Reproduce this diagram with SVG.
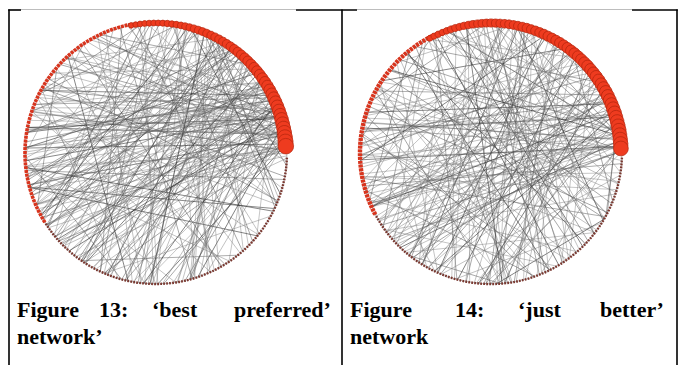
<svg xmlns="http://www.w3.org/2000/svg" xmlns:xlink="http://www.w3.org/1999/xlink" width="678" height="365" viewBox="0 0 678 365">
<style>
.frame{stroke:#000;stroke-width:1.6;fill:none}
.edge{fill:none;stroke-width:.75}
.a{stroke:#7a7a7a;stroke-opacity:.55}
.b{stroke:#505050;stroke-opacity:.6}
.c{stroke:#2a2a2a;stroke-opacity:.7}
.ring{fill:none;stroke:#555;stroke-width:.6;stroke-opacity:.6}
.dark{fill:none;stroke:#7a3830;stroke-width:2.4;stroke-dasharray:1.8 1.2}
.red{fill:none;stroke:#d8341d;stroke-width:3.6;stroke-dasharray:3 .8}
.n{fill:#ee3b1f;stroke:#b5260e;stroke-width:.7}
.cap{font-family:"Liberation Serif","Times New Roman",serif;font-weight:bold;font-size:22px;fill:#000}
</style>
<defs>
<line id="t0" x1="0" y1="-131" x2="0" y2="131"/>
<line id="t7" x1="7" y1="-130.8" x2="7" y2="130.8"/>
<line id="t15" x1="15" y1="-130.1" x2="15" y2="130.1"/>
<line id="t22" x1="22" y1="-129.1" x2="22" y2="129.1"/>
<line id="t30" x1="30" y1="-127.5" x2="30" y2="127.5"/>
<line id="t37" x1="37" y1="-125.7" x2="37" y2="125.7"/>
<line id="t45" x1="45" y1="-123" x2="45" y2="123"/>
<line id="t52" x1="52" y1="-120.2" x2="52" y2="120.2"/>
<line id="t60" x1="60" y1="-116.5" x2="60" y2="116.5"/>
<line id="t67" x1="67" y1="-112.6" x2="67" y2="112.6"/>
<line id="t75" x1="75" y1="-107.4" x2="75" y2="107.4"/>
<line id="t82" x1="82" y1="-102.2" x2="82" y2="102.2"/>
<line id="t90" x1="90" y1="-95.2" x2="90" y2="95.2"/>
<line id="t97" x1="97" y1="-88" x2="97" y2="88"/>
<line id="t105" x1="105" y1="-78.3" x2="105" y2="78.3"/>
<line id="t110" x1="110" y1="-71.1" x2="110" y2="71.1"/>
<line id="t115" x1="115" y1="-62.7" x2="115" y2="62.7"/>
<line id="t122" x1="122" y1="-47.7" x2="122" y2="47.7"/>
</defs>
<rect width="678" height="365" fill="#fff"/>
<g id="table">
<line class="frame" x1="9" y1="9.5" x2="9" y2="365"/>
<line class="frame" x1="342" y1="9.5" x2="342" y2="365"/>
<line class="frame" x1="677" y1="9.5" x2="677" y2="365"/>
<line class="frame" x1="8.2" y1="10" x2="21" y2="10"/>
<line class="frame" x1="296" y1="10" x2="357" y2="10"/>
<line class="frame" x1="632" y1="10" x2="677.8" y2="10"/>
<line x1="21" y1="9.5" x2="296" y2="9.5" stroke="#bdbdbd" stroke-width="1.2"/>
<line x1="357" y1="9.5" x2="632" y2="9.5" stroke="#bdbdbd" stroke-width="1.2"/>
</g>
<g id="fig13" transform="translate(156,153)">
<g id="fig13-edges" class="edge">
<use href="#t7" class="a" transform="rotate(87)"/><use href="#t15" class="a" transform="rotate(80.4)"/><use href="#t30" class="b" transform="rotate(73.8)"/><use href="#t45" class="a" transform="rotate(64.9)"/><use href="#t22" class="c" transform="rotate(-88.4)"/><use href="#t30" class="a" transform="rotate(-83.8)"/><use href="#t22" class="b" transform="rotate(-97)"/><use href="#t60" class="a" transform="rotate(54.7)"/><use href="#t45" class="a" transform="rotate(-77.9)"/><use href="#t15" class="b" transform="rotate(73.4)"/>
<use href="#t75" class="a" transform="rotate(45.1)"/><use href="#t30" class="a" transform="rotate(-88.8)"/><use href="#t60" class="b" transform="rotate(-74.7)"/><use href="#t0" class="a" transform="rotate(76)"/><use href="#t37" class="c" transform="rotate(-97.4)"/><use href="#t45" class="a" transform="rotate(54.9)"/><use href="#t90" class="b" transform="rotate(30.6)"/><use href="#t30" class="a" transform="rotate(58.8)"/><use href="#t75" class="a" transform="rotate(-73.1)"/><use href="#t15" class="b" transform="rotate(63.4)"/>
<use href="#t45" class="a" transform="rotate(-89.9)"/><use href="#t7" class="a" transform="rotate(-112)"/><use href="#t60" class="b" transform="rotate(40.7)"/><use href="#t30" class="a" transform="rotate(-100.8)"/><use href="#t22" class="c" transform="rotate(58.4)"/><use href="#t90" class="a" transform="rotate(-73.6)"/><use href="#t45" class="b" transform="rotate(41.9)"/><use href="#t22" class="a" transform="rotate(60)"/><use href="#t30" class="a" transform="rotate(-106.8)"/><use href="#t15" class="b" transform="rotate(-115.4)"/>
<use href="#t60" class="a" transform="rotate(-95.7)"/><use href="#t30" class="a" transform="rotate(41.8)"/><use href="#t75" class="b" transform="rotate(19.1)"/><use href="#t37" class="a" transform="rotate(45.4)"/><use href="#t45" class="c" transform="rotate(-107.9)"/><use href="#t0" class="a" transform="rotate(-130)"/><use href="#t105" class="b" transform="rotate(-78.7)"/><use href="#t30" class="a" transform="rotate(33.8)"/><use href="#t60" class="a" transform="rotate(17.7)"/><use href="#t22" class="b" transform="rotate(-128.4)"/>
<use href="#t45" class="a" transform="rotate(21.9)"/><use href="#t30" class="a" transform="rotate(-126.8)"/><use href="#t7" class="b" transform="rotate(38)"/><use href="#t90" class="a" transform="rotate(-99.6)"/><use href="#t15" class="c" transform="rotate(28.4)"/><use href="#t60" class="a" transform="rotate(-119.7)"/><use href="#t45" class="b" transform="rotate(-127.9)"/><use href="#t30" class="a" transform="rotate(16.8)"/><use href="#t75" class="a" transform="rotate(-6.9)"/><use href="#t37" class="b" transform="rotate(-146.4)"/>
<use href="#t22" class="a" transform="rotate(-155)"/><use href="#t45" class="a" transform="rotate(2.9)"/><use href="#t60" class="b" transform="rotate(-132.7)"/><use href="#t30" class="a" transform="rotate(-148.8)"/><use href="#t90" class="c" transform="rotate(-28.4)"/><use href="#t15" class="a" transform="rotate(6.4)"/><use href="#t105" class="b" transform="rotate(-116.7)"/><use href="#t45" class="a" transform="rotate(-151.9)"/><use href="#t0" class="a" transform="rotate(5)"/><use href="#t60" class="b" transform="rotate(-150.7)"/>
<use href="#t30" class="a" transform="rotate(-13.2)"/><use href="#t75" class="a" transform="rotate(-148.1)"/><use href="#t115" class="b" transform="rotate(-123.6)"/><use href="#t90" class="a" transform="rotate(-144.6)"/><use href="#t90" class="c" transform="rotate(42.6)"/><use href="#t105" class="a" transform="rotate(30.7)"/><use href="#t115" class="b" transform="rotate(-37.6)"/><use href="#t7" class="a" transform="rotate(79)"/><use href="#t30" class="a" transform="rotate(63.8)"/><use href="#t45" class="b" transform="rotate(67.9)"/>
<use href="#t60" class="a" transform="rotate(-64.7)"/><use href="#t22" class="a" transform="rotate(-100.4)"/><use href="#t22" class="b" transform="rotate(-109)"/><use href="#t75" class="a" transform="rotate(32.1)"/><use href="#t60" class="c" transform="rotate(-88.7)"/><use href="#t15" class="a" transform="rotate(54.4)"/><use href="#t45" class="b" transform="rotate(-100.9)"/><use href="#t0" class="a" transform="rotate(56)"/><use href="#t90" class="a" transform="rotate(9.6)"/><use href="#t30" class="b" transform="rotate(-117.8)"/>
<use href="#t37" class="a" transform="rotate(39.4)"/><use href="#t60" class="a" transform="rotate(15.7)"/><use href="#t45" class="b" transform="rotate(-120.9)"/><use href="#t30" class="a" transform="rotate(22.8)"/><use href="#t7" class="c" transform="rotate(-149)"/><use href="#t15" class="a" transform="rotate(19.4)"/><use href="#t105" class="b" transform="rotate(-31.3)"/><use href="#t45" class="a" transform="rotate(-3.1)"/><use href="#t30" class="a" transform="rotate(-154.8)"/><use href="#t60" class="b" transform="rotate(-20.3)"/>
<use href="#t105" class="a" transform="rotate(-39.7)"/><use href="#t122" class="a" transform="rotate(-36.4)"/><use href="#t75" class="b" transform="rotate(-61.1)"/><use href="#t90" class="a" transform="rotate(-67.6)"/>
<use href="#t22" class="a" transform="rotate(12)"/><use href="#t30" class="b" transform="rotate(27)"/><use href="#t15" class="a" transform="rotate(48)"/><use href="#t60" class="a" transform="rotate(65)"/><use href="#t45" class="c" transform="rotate(95)"/><use href="#t7" class="a" transform="rotate(110)"/><use href="#t30" class="b" transform="rotate(135)"/><use href="#t75" class="a" transform="rotate(150)"/><use href="#t37" class="a" transform="rotate(170)"/><use href="#t45" class="b" transform="rotate(185)"/>
<use href="#t0" class="a" transform="rotate(200)"/><use href="#t60" class="a" transform="rotate(215)"/><use href="#t30" class="b" transform="rotate(230)"/><use href="#t90" class="a" transform="rotate(245)"/><use href="#t15" class="c" transform="rotate(260)"/><use href="#t45" class="a" transform="rotate(275)"/><use href="#t22" class="b" transform="rotate(290)"/><use href="#t30" class="a" transform="rotate(305)"/><use href="#t60" class="a" transform="rotate(320)"/><use href="#t37" class="b" transform="rotate(335)"/>
<use href="#t75" class="a" transform="rotate(350)"/><use href="#t45" class="a" transform="rotate(5)"/><use href="#t90" class="b" transform="rotate(40)"/><use href="#t30" class="a" transform="rotate(78)"/><use href="#t60" class="c" transform="rotate(102)"/><use href="#t15" class="a" transform="rotate(122)"/><use href="#t105" class="b" transform="rotate(142)"/><use href="#t45" class="a" transform="rotate(160)"/><use href="#t7" class="a" transform="rotate(178)"/><use href="#t30" class="b" transform="rotate(192)"/>
<use href="#t115" class="a" transform="rotate(208)"/><use href="#t22" class="a" transform="rotate(222)"/><use href="#t45" class="b" transform="rotate(238)"/><use href="#t60" class="a" transform="rotate(252)"/><use href="#t30" class="c" transform="rotate(268)"/><use href="#t75" class="a" transform="rotate(282)"/><use href="#t15" class="b" transform="rotate(298)"/><use href="#t90" class="a" transform="rotate(312)"/><use href="#t45" class="a" transform="rotate(328)"/><use href="#t0" class="b" transform="rotate(344)"/>
<use href="#t30" class="a" transform="rotate(356)"/><use href="#t60" class="a" transform="rotate(18)"/><use href="#t105" class="b" transform="rotate(88)"/><use href="#t90" class="a" transform="rotate(128)"/><use href="#t60" class="c" transform="rotate(165)"/><use href="#t75" class="a" transform="rotate(196)"/><use href="#t22" class="b" transform="rotate(226)"/><use href="#t105" class="a" transform="rotate(262)"/><use href="#t60" class="a" transform="rotate(301)"/><use href="#t90" class="b" transform="rotate(338)"/>
<use href="#t7" class="a" transform="rotate(85.9)"/><use href="#t22" class="b" transform="rotate(-81.3)"/><use href="#t37" class="a" transform="rotate(71.6)"/><use href="#t52" class="a" transform="rotate(-69.6)"/><use href="#t7" class="c" transform="rotate(-90.9)"/><use href="#t22" class="a" transform="rotate(76.3)"/><use href="#t67" class="b" transform="rotate(54.2)"/><use href="#t37" class="a" transform="rotate(-79.6)"/><use href="#t82" class="a" transform="rotate(44.2)"/><use href="#t7" class="b" transform="rotate(78.9)"/>
<use href="#t22" class="a" transform="rotate(-89.3)"/><use href="#t52" class="a" transform="rotate(56.6)"/><use href="#t37" class="b" transform="rotate(62.6)"/><use href="#t7" class="a" transform="rotate(-98.9)"/><use href="#t97" class="c" transform="rotate(29.2)"/><use href="#t22" class="a" transform="rotate(66.3)"/><use href="#t67" class="b" transform="rotate(-74.2)"/><use href="#t37" class="a" transform="rotate(-89.6)"/><use href="#t7" class="a" transform="rotate(69.9)"/><use href="#t52" class="b" transform="rotate(-84.6)"/>
<use href="#t22" class="a" transform="rotate(-99.3)"/><use href="#t82" class="a" transform="rotate(31.2)"/><use href="#t37" class="b" transform="rotate(52.6)"/><use href="#t7" class="a" transform="rotate(-108.9)"/><use href="#t67" class="c" transform="rotate(36.2)"/><use href="#t22" class="a" transform="rotate(56.3)"/><use href="#t52" class="b" transform="rotate(-91.6)"/><use href="#t110" class="a" transform="rotate(6.9)"/><use href="#t7" class="a" transform="rotate(59.9)"/><use href="#t37" class="b" transform="rotate(-101.6)"/>
<use href="#t22" class="a" transform="rotate(-110.3)"/><use href="#t67" class="a" transform="rotate(-91.2)"/><use href="#t7" class="b" transform="rotate(-120.9)"/><use href="#t52" class="a" transform="rotate(30.6)"/><use href="#t22" class="c" transform="rotate(42.3)"/><use href="#t82" class="a" transform="rotate(-91.2)"/><use href="#t37" class="b" transform="rotate(31.6)"/><use href="#t7" class="a" transform="rotate(41.9)"/><use href="#t67" class="a" transform="rotate(11.2)"/><use href="#t22" class="b" transform="rotate(-130.3)"/>
<use href="#t52" class="a" transform="rotate(-119.6)"/><use href="#t37" class="a" transform="rotate(-129.6)"/><use href="#t7" class="b" transform="rotate(-146.9)"/><use href="#t97" class="a" transform="rotate(-21.8)"/><use href="#t22" class="c" transform="rotate(12.3)"/><use href="#t52" class="a" transform="rotate(-5.4)"/><use href="#t7" class="b" transform="rotate(10.9)"/><use href="#t37" class="a" transform="rotate(-153.6)"/><use href="#t22" class="a" transform="rotate(-166.3)"/><use href="#t67" class="b" transform="rotate(-151.2)"/>
<use href="#t7" class="a" transform="rotate(-183.9)"/><use href="#t52" class="a" transform="rotate(8)"/><use href="#t82" class="b" transform="rotate(24)"/><use href="#t7" class="a" transform="rotate(36)"/><use href="#t37" class="c" transform="rotate(58)"/><use href="#t97" class="a" transform="rotate(71)"/><use href="#t22" class="b" transform="rotate(92)"/><use href="#t67" class="a" transform="rotate(115)"/><use href="#t52" class="a" transform="rotate(132)"/><use href="#t7" class="b" transform="rotate(147)"/>
<use href="#t82" class="a" transform="rotate(158)"/><use href="#t37" class="a" transform="rotate(174)"/><use href="#t110" class="b" transform="rotate(188)"/><use href="#t22" class="a" transform="rotate(203)"/><use href="#t52" class="c" transform="rotate(218)"/><use href="#t7" class="a" transform="rotate(233)"/><use href="#t67" class="b" transform="rotate(248)"/><use href="#t37" class="a" transform="rotate(264)"/><use href="#t22" class="a" transform="rotate(279)"/><use href="#t82" class="b" transform="rotate(293)"/>
<use href="#t52" class="a" transform="rotate(309)"/><use href="#t7" class="a" transform="rotate(323)"/><use href="#t97" class="b" transform="rotate(341)"/><use href="#t37" class="a" transform="rotate(352)"/><use href="#t37" class="c" transform="rotate(100)"/><use href="#t22" class="a" transform="rotate(140)"/><use href="#t67" class="b" transform="rotate(205)"/><use href="#t82" class="a" transform="rotate(250)"/><use href="#t52" class="a" transform="rotate(285)"/>
</g>
<g id="fig13-nodes">
<circle class="ring" r="131"/>
<path class="dark" d="M130.9,4.6 A131,131 0 0 1 -111.1,69.4"/>
<path class="red" d="M-111.1,69.4 A131,131 0 0 1 -25,-128.6"/>
<g class="n">
<circle cx="130" r="2.8" transform="rotate(-101)"/><circle cx="130" r="2.8" transform="rotate(-99)"/><circle cx="130" r="2.9" transform="rotate(-97)"/><circle cx="130" r="2.9" transform="rotate(-95)"/><circle cx="130" r="3" transform="rotate(-93)"/><circle cx="130" r="3" transform="rotate(-91)"/><circle cx="130" r="3" transform="rotate(-89)"/><circle cx="130" r="3.1" transform="rotate(-87)"/><circle cx="130" r="3.2" transform="rotate(-85)"/><circle cx="130" r="3.2" transform="rotate(-83)"/>
<circle cx="130" r="3.3" transform="rotate(-81)"/><circle cx="130" r="3.4" transform="rotate(-79)"/><circle cx="130" r="3.5" transform="rotate(-77)"/><circle cx="130" r="3.6" transform="rotate(-75)"/><circle cx="130" r="3.7" transform="rotate(-73)"/><circle cx="130" r="3.8" transform="rotate(-71)"/><circle cx="130" r="3.9" transform="rotate(-69)"/><circle cx="130" r="4" transform="rotate(-67)"/><circle cx="130" r="4.1" transform="rotate(-65)"/><circle cx="130" r="4.2" transform="rotate(-63)"/>
<circle cx="130" r="4.3" transform="rotate(-61)"/><circle cx="130" r="4.4" transform="rotate(-59)"/><circle cx="130" r="4.5" transform="rotate(-57)"/><circle cx="130" r="4.6" transform="rotate(-55)"/><circle cx="130" r="4.7" transform="rotate(-53)"/><circle cx="130" r="4.8" transform="rotate(-51)"/><circle cx="130" r="4.9" transform="rotate(-49)"/><circle cx="130" r="5" transform="rotate(-47)"/><circle cx="130" r="5.1" transform="rotate(-45)"/><circle cx="130" r="5.2" transform="rotate(-43)"/>
<circle cx="130" r="5.3" transform="rotate(-41)"/><circle cx="130" r="5.4" transform="rotate(-39)"/><circle cx="130" r="5.5" transform="rotate(-37)"/><circle cx="130" r="5.6" transform="rotate(-35)"/><circle cx="130" r="5.7" transform="rotate(-33)"/><circle cx="130" r="5.8" transform="rotate(-31)"/><circle cx="130" r="5.9" transform="rotate(-29)"/><circle cx="130" r="6" transform="rotate(-27)"/><circle cx="130" r="6.2" transform="rotate(-25)"/><circle cx="130" r="6.3" transform="rotate(-23)"/>
<circle cx="130" r="6.4" transform="rotate(-21)"/><circle cx="130" r="6.5" transform="rotate(-19)"/><circle cx="130" r="6.6" transform="rotate(-17)"/><circle cx="130" r="6.8" transform="rotate(-15)"/><circle cx="130" r="6.9" transform="rotate(-13)"/><circle cx="130" r="7" transform="rotate(-11)"/><circle cx="130" r="7.2" transform="rotate(-9)"/><circle cx="130" r="7.4" transform="rotate(-7)"/><circle cx="130" r="7.6" transform="rotate(-5)"/><circle cx="130" r="7.8" transform="rotate(-3)"/>
</g>
</g>
</g>
<g id="fig14" transform="translate(491,153)">
<g id="fig14-edges" class="edge">
<use href="#t0" class="a" transform="rotate(88)"/><use href="#t15" class="b" transform="rotate(-85.4)"/><use href="#t30" class="a" transform="rotate(72.8)"/><use href="#t7" class="a" transform="rotate(-94)"/><use href="#t45" class="c" transform="rotate(63.9)"/><use href="#t22" class="a" transform="rotate(75.4)"/><use href="#t60" class="b" transform="rotate(-71.7)"/><use href="#t30" class="a" transform="rotate(-87.8)"/><use href="#t22" class="a" transform="rotate(77)"/><use href="#t75" class="b" transform="rotate(40.1)"/>
<use href="#t15" class="a" transform="rotate(-101.4)"/><use href="#t45" class="a" transform="rotate(48.9)"/><use href="#t0" class="b" transform="rotate(-114)"/><use href="#t30" class="a" transform="rotate(49.8)"/><use href="#t60" class="c" transform="rotate(32.7)"/><use href="#t37" class="a" transform="rotate(50.4)"/><use href="#t45" class="b" transform="rotate(-105.9)"/><use href="#t90" class="a" transform="rotate(6.6)"/><use href="#t30" class="a" transform="rotate(-120.8)"/><use href="#t7" class="b" transform="rotate(42)"/>
<use href="#t15" class="a" transform="rotate(-135.4)"/><use href="#t60" class="a" transform="rotate(6.7)"/><use href="#t45" class="b" transform="rotate(9.9)"/><use href="#t30" class="a" transform="rotate(-140.8)"/><use href="#t22" class="c" transform="rotate(-158)"/><use href="#t75" class="a" transform="rotate(-16.9)"/><use href="#t15" class="b" transform="rotate(7.4)"/><use href="#t105" class="a" transform="rotate(-43.3)"/><use href="#t45" class="a" transform="rotate(-153.9)"/><use href="#t30" class="b" transform="rotate(-11.2)"/>
<use href="#t60" class="a" transform="rotate(-154.7)"/><use href="#t0" class="a" transform="rotate(-6)"/><use href="#t37" class="b" transform="rotate(-16.6)"/><use href="#t90" class="a" transform="rotate(-150.6)"/><use href="#t30" class="c" transform="rotate(-31.2)"/><use href="#t45" class="a" transform="rotate(-42.1)"/><use href="#t90" class="b" transform="rotate(43.6)"/><use href="#t105" class="a" transform="rotate(-43.7)"/><use href="#t60" class="a" transform="rotate(52.7)"/><use href="#t122" class="b" transform="rotate(7.4)"/>
<use href="#t7" class="a" transform="rotate(71)"/><use href="#t15" class="a" transform="rotate(58.4)"/><use href="#t22" class="b" transform="rotate(85)"/><use href="#t15" class="a" transform="rotate(78.4)"/><use href="#t30" class="c" transform="rotate(-92.8)"/><use href="#t60" class="a" transform="rotate(-100.7)"/><use href="#t0" class="b" transform="rotate(32)"/><use href="#t30" class="a" transform="rotate(-154.8)"/><use href="#t30" class="a" transform="rotate(-77.8)"/><use href="#t45" class="b" transform="rotate(68.9)"/>
<use href="#t15" class="a" transform="rotate(3)"/><use href="#t45" class="a" transform="rotate(9)"/><use href="#t7" class="b" transform="rotate(14)"/><use href="#t60" class="a" transform="rotate(21)"/><use href="#t30" class="c" transform="rotate(28)"/><use href="#t75" class="a" transform="rotate(34)"/><use href="#t37" class="b" transform="rotate(39)"/><use href="#t90" class="a" transform="rotate(46)"/><use href="#t22" class="a" transform="rotate(52)"/><use href="#t45" class="b" transform="rotate(57)"/>
<use href="#t30" class="a" transform="rotate(63)"/><use href="#t105" class="a" transform="rotate(69)"/><use href="#t15" class="b" transform="rotate(74)"/><use href="#t60" class="a" transform="rotate(81)"/><use href="#t0" class="c" transform="rotate(87)"/><use href="#t30" class="a" transform="rotate(93)"/><use href="#t45" class="b" transform="rotate(99)"/><use href="#t75" class="a" transform="rotate(104)"/><use href="#t37" class="a" transform="rotate(111)"/><use href="#t90" class="b" transform="rotate(117)"/>
<use href="#t7" class="a" transform="rotate(123)"/><use href="#t30" class="a" transform="rotate(129)"/><use href="#t60" class="b" transform="rotate(134)"/><use href="#t45" class="a" transform="rotate(141)"/><use href="#t15" class="c" transform="rotate(147)"/><use href="#t105" class="a" transform="rotate(152)"/><use href="#t30" class="b" transform="rotate(158)"/><use href="#t22" class="a" transform="rotate(163)"/><use href="#t75" class="a" transform="rotate(169)"/><use href="#t45" class="b" transform="rotate(175)"/>
<use href="#t37" class="a" transform="rotate(181)"/><use href="#t60" class="a" transform="rotate(186)"/><use href="#t90" class="b" transform="rotate(192)"/><use href="#t30" class="a" transform="rotate(198)"/><use href="#t0" class="c" transform="rotate(204)"/><use href="#t45" class="a" transform="rotate(209)"/><use href="#t115" class="b" transform="rotate(215)"/><use href="#t15" class="a" transform="rotate(221)"/><use href="#t60" class="a" transform="rotate(226)"/><use href="#t30" class="b" transform="rotate(232)"/>
<use href="#t75" class="a" transform="rotate(238)"/><use href="#t7" class="a" transform="rotate(243)"/><use href="#t45" class="b" transform="rotate(249)"/><use href="#t22" class="a" transform="rotate(254)"/><use href="#t90" class="c" transform="rotate(260)"/><use href="#t30" class="a" transform="rotate(266)"/><use href="#t60" class="b" transform="rotate(271)"/><use href="#t105" class="a" transform="rotate(277)"/><use href="#t22" class="a" transform="rotate(283)"/><use href="#t45" class="b" transform="rotate(289)"/>
<use href="#t15" class="a" transform="rotate(294)"/><use href="#t75" class="a" transform="rotate(300)"/><use href="#t30" class="b" transform="rotate(306)"/><use href="#t60" class="a" transform="rotate(311)"/><use href="#t7" class="c" transform="rotate(317)"/><use href="#t90" class="a" transform="rotate(322)"/><use href="#t45" class="b" transform="rotate(328)"/><use href="#t37" class="a" transform="rotate(334)"/><use href="#t30" class="a" transform="rotate(339)"/><use href="#t105" class="b" transform="rotate(345)"/>
<use href="#t60" class="a" transform="rotate(351)"/><use href="#t0" class="a" transform="rotate(357)"/><use href="#t122" class="b" transform="rotate(6)"/><use href="#t105" class="a" transform="rotate(31)"/><use href="#t115" class="c" transform="rotate(59)"/><use href="#t90" class="a" transform="rotate(84)"/><use href="#t122" class="b" transform="rotate(107)"/><use href="#t75" class="a" transform="rotate(138)"/><use href="#t90" class="a" transform="rotate(166)"/><use href="#t105" class="b" transform="rotate(195)"/>
<use href="#t75" class="a" transform="rotate(223)"/><use href="#t115" class="a" transform="rotate(252)"/><use href="#t90" class="b" transform="rotate(281)"/><use href="#t122" class="a" transform="rotate(308)"/><use href="#t75" class="c" transform="rotate(336)"/><use href="#t60" class="a" transform="rotate(12)"/><use href="#t30" class="b" transform="rotate(42)"/><use href="#t45" class="a" transform="rotate(66)"/><use href="#t15" class="a" transform="rotate(96)"/><use href="#t60" class="b" transform="rotate(126)"/>
<use href="#t45" class="a" transform="rotate(156)"/><use href="#t30" class="a" transform="rotate(183)"/><use href="#t15" class="b" transform="rotate(212)"/><use href="#t60" class="a" transform="rotate(241)"/><use href="#t45" class="c" transform="rotate(268)"/><use href="#t30" class="a" transform="rotate(297)"/><use href="#t15" class="b" transform="rotate(326)"/><use href="#t45" class="a" transform="rotate(354)"/>
<use href="#t7" class="a" transform="rotate(83.9)"/><use href="#t22" class="b" transform="rotate(-86.3)"/><use href="#t37" class="a" transform="rotate(63.6)"/><use href="#t52" class="a" transform="rotate(-80.6)"/><use href="#t7" class="c" transform="rotate(68.9)"/><use href="#t67" class="a" transform="rotate(37.2)"/><use href="#t22" class="b" transform="rotate(54.3)"/><use href="#t37" class="a" transform="rotate(-103.6)"/><use href="#t7" class="a" transform="rotate(-121.9)"/><use href="#t52" class="b" transform="rotate(26.6)"/>
<use href="#t82" class="a" transform="rotate(6.2)"/><use href="#t22" class="a" transform="rotate(-130.3)"/><use href="#t37" class="b" transform="rotate(18.6)"/><use href="#t7" class="a" transform="rotate(26.9)"/><use href="#t67" class="c" transform="rotate(-124.2)"/><use href="#t52" class="a" transform="rotate(-136.6)"/><use href="#t22" class="b" transform="rotate(5.3)"/><use href="#t37" class="a" transform="rotate(-6.4)"/><use href="#t7" class="a" transform="rotate(-171.9)"/><use href="#t97" class="b" transform="rotate(-47.8)"/>
<use href="#t52" class="a" transform="rotate(-28.4)"/><use href="#t22" class="a" transform="rotate(-180.3)"/><use href="#t37" class="b" transform="rotate(-31.4)"/><use href="#t82" class="a" transform="rotate(-58.8)"/><use href="#t7" class="c" transform="rotate(-28.1)"/><use href="#t52" class="a" transform="rotate(64.6)"/><use href="#t82" class="b" transform="rotate(-59.2)"/><use href="#t22" class="a" transform="rotate(68.3)"/><use href="#t97" class="a" transform="rotate(-58.2)"/><use href="#t7" class="b" transform="rotate(-106.9)"/>
<use href="#t37" class="a" transform="rotate(2)"/><use href="#t22" class="a" transform="rotate(17)"/><use href="#t67" class="b" transform="rotate(25)"/><use href="#t7" class="a" transform="rotate(37)"/><use href="#t52" class="c" transform="rotate(49)"/><use href="#t82" class="a" transform="rotate(61)"/><use href="#t37" class="b" transform="rotate(73)"/><use href="#t22" class="a" transform="rotate(89)"/><use href="#t97" class="a" transform="rotate(102)"/><use href="#t7" class="b" transform="rotate(114)"/>
<use href="#t52" class="a" transform="rotate(121)"/><use href="#t37" class="a" transform="rotate(136)"/><use href="#t67" class="b" transform="rotate(149)"/><use href="#t22" class="a" transform="rotate(161)"/><use href="#t7" class="c" transform="rotate(172)"/><use href="#t82" class="a" transform="rotate(189)"/><use href="#t37" class="b" transform="rotate(201)"/><use href="#t52" class="a" transform="rotate(213)"/><use href="#t22" class="a" transform="rotate(229)"/><use href="#t110" class="b" transform="rotate(236)"/>
<use href="#t7" class="a" transform="rotate(246)"/><use href="#t67" class="a" transform="rotate(257)"/><use href="#t37" class="b" transform="rotate(263)"/><use href="#t22" class="a" transform="rotate(274)"/><use href="#t52" class="c" transform="rotate(286)"/><use href="#t97" class="a" transform="rotate(291)"/><use href="#t7" class="b" transform="rotate(303)"/><use href="#t37" class="a" transform="rotate(314)"/><use href="#t67" class="a" transform="rotate(331)"/><use href="#t22" class="b" transform="rotate(348)"/>
</g>
<g id="fig14-nodes">
<circle class="ring" r="131"/>
<path class="dark" d="M130.9,4.6 A131,131 0 0 1 -115.7,61.5"/>
<path class="red" style="stroke-width:4.4" d="M-115.7,61.5 A131,131 0 0 1 -57.4,-117.7"/>
<g class="n">
<circle cx="130" r="3" transform="rotate(-118)"/><circle cx="130" r="3.1" transform="rotate(-116)"/><circle cx="130" r="3.2" transform="rotate(-114)"/><circle cx="130" r="3.2" transform="rotate(-112)"/><circle cx="130" r="3.3" transform="rotate(-110)"/><circle cx="130" r="3.4" transform="rotate(-108)"/><circle cx="130" r="3.5" transform="rotate(-106)"/><circle cx="130" r="3.5" transform="rotate(-104)"/><circle cx="130" r="3.6" transform="rotate(-102)"/><circle cx="130" r="3.7" transform="rotate(-100)"/>
<circle cx="130" r="3.8" transform="rotate(-98)"/><circle cx="130" r="3.8" transform="rotate(-96)"/><circle cx="130" r="3.9" transform="rotate(-94)"/><circle cx="130" r="4" transform="rotate(-92)"/><circle cx="130" r="4.1" transform="rotate(-90)"/><circle cx="130" r="4.1" transform="rotate(-88)"/><circle cx="130" r="4.2" transform="rotate(-86)"/><circle cx="130" r="4.3" transform="rotate(-84)"/><circle cx="130" r="4.4" transform="rotate(-82)"/><circle cx="130" r="4.4" transform="rotate(-80)"/>
<circle cx="130" r="4.5" transform="rotate(-78)"/><circle cx="130" r="4.6" transform="rotate(-76)"/><circle cx="130" r="4.7" transform="rotate(-74)"/><circle cx="130" r="4.7" transform="rotate(-72)"/><circle cx="130" r="4.8" transform="rotate(-70)"/><circle cx="130" r="4.9" transform="rotate(-68)"/><circle cx="130" r="5" transform="rotate(-66)"/><circle cx="130" r="5" transform="rotate(-64)"/><circle cx="130" r="5.1" transform="rotate(-62)"/><circle cx="130" r="5.2" transform="rotate(-60)"/>
<circle cx="130" r="5.3" transform="rotate(-58)"/><circle cx="130" r="5.3" transform="rotate(-56)"/><circle cx="130" r="5.4" transform="rotate(-54)"/><circle cx="130" r="5.5" transform="rotate(-52)"/><circle cx="130" r="5.6" transform="rotate(-50)"/><circle cx="130" r="5.6" transform="rotate(-48)"/><circle cx="130" r="5.7" transform="rotate(-46)"/><circle cx="130" r="5.8" transform="rotate(-44)"/><circle cx="130" r="5.9" transform="rotate(-42)"/><circle cx="130" r="5.9" transform="rotate(-40)"/>
<circle cx="130" r="6" transform="rotate(-38)"/><circle cx="130" r="6.1" transform="rotate(-36)"/><circle cx="130" r="6.2" transform="rotate(-34)"/><circle cx="130" r="6.2" transform="rotate(-32)"/><circle cx="130" r="6.3" transform="rotate(-30)"/><circle cx="130" r="6.4" transform="rotate(-28)"/><circle cx="130" r="6.5" transform="rotate(-26)"/><circle cx="130" r="6.5" transform="rotate(-24)"/><circle cx="130" r="6.6" transform="rotate(-22)"/><circle cx="130" r="6.7" transform="rotate(-20)"/>
<circle cx="130" r="6.8" transform="rotate(-18)"/><circle cx="130" r="6.8" transform="rotate(-16)"/><circle cx="130" r="6.9" transform="rotate(-14)"/><circle cx="130" r="7" transform="rotate(-12)"/><circle cx="130" r="7.1" transform="rotate(-10)"/><circle cx="130" r="7.1" transform="rotate(-8)"/><circle cx="130" r="7.2" transform="rotate(-6)"/><circle cx="130" r="7.3" transform="rotate(-4)"/><circle cx="130" r="7.4" transform="rotate(-2)"/>
</g>
</g>
</g>
<g id="captions" class="cap">
<text y="317"><tspan x="17">Figure</tspan><tspan x="99">13:</tspan><tspan x="152">‘best</tspan><tspan x="234">preferred’</tspan></text>
<text x="17" y="344">network’</text>
<text y="317"><tspan x="350">Figure</tspan><tspan x="455">14:</tspan><tspan x="518">‘just</tspan><tspan x="600">better’</tspan></text>
<text x="350" y="344">network</text>
</g>
</svg>
